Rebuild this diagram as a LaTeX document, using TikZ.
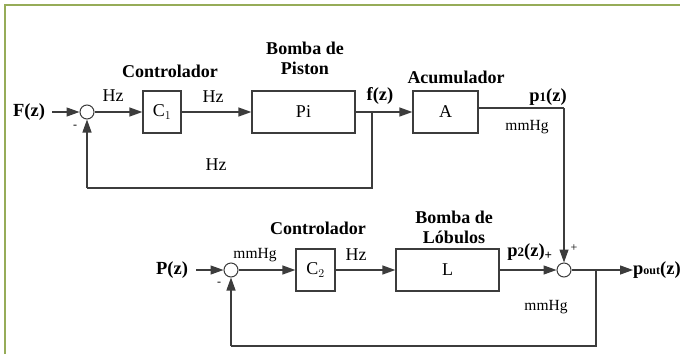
\documentclass[tikz,border=0pt]{standalone}
\usepackage{fontspec}
\setmainfont{Liberation Serif}
\usetikzlibrary{arrows.meta}
\definecolor{frame}{RGB}{150,172,88}
\definecolor{ln}{RGB}{60,60,60}
\tikzset{
  blk/.style={draw=ln, line width=1.3pt, minimum height=42pt, inner sep=0pt, font=\fontsize{18}{18}\selectfont},
  sumc/.style={circle, draw=ln, line width=1pt, minimum size=14pt, inner sep=0pt},
  wire/.style={draw=ln, line width=1.3pt},
  arr/.style={wire, -{Triangle[length=13pt,width=9pt]}},
  ttl/.style={font=\fontsize{18}{20}\selectfont\bfseries, align=center},
  sig/.style={font=\fontsize{18.5}{18.5}\selectfont\bfseries, inner sep=0pt},
  unit/.style={font=\fontsize{18}{18}\selectfont, inner sep=0pt},
  unitsm/.style={font=\fontsize{15.5}{15.5}\selectfont, inner sep=0pt},
  sgn/.style={font=\fontsize{12}{12}\selectfont, inner sep=0pt}
}
\begin{document}
\begin{tikzpicture}[x=1pt,y=-1pt]
\useasboundingbox (0,0) rectangle (680,354);
\draw[frame, line width=2pt] (5,354) -- (5,5) -- (680,5);

% top loop
\node[sig] (Fz) at (29,112) {F(z)};
\node[sumc] (s1) at (87,112) {};
\node[blk, minimum width=38pt] (C1) at (162,112) {C$_1$};
\node[blk, minimum width=103pt] (Pi) at (303.5,112) {Pi};
\coordinate (b1) at (372,112);
\node[blk, minimum width=65pt] (A) at (445.5,112) {A};
\coordinate (c1) at (564,108);

\node[ttl] (t1) at (170,71) {Controlador};
\node[ttl] (t2) at (305,58) {Bomba de\\Piston};
\node[ttl] (t3) at (456,77) {Acumulador};

\draw[arr, shorten <=7pt] (Fz) -- (s1);
\draw[arr] (s1) -- (C1);
\draw[arr] (C1) -- (Pi);
\draw[wire] (Pi) -- (b1);
\draw[arr] (b1) -- (A);
\draw[wire] (b1) -- (372,188) -- (87,188);
\draw[arr] (87,188) -- (s1);

\node[unit] at (113,96) {Hz};
\node[unit] at (213,97) {Hz};
\node[unit] at (216,165) {Hz};
\node[sig] at (380,96) {f(z)};
\node[sig] at (548,97) {p{\fontsize{13}{13}\selectfont 1}(z)};
\node[unitsm] at (527,127) {mmHg};
\node[sgn] at (75,127) {-};

% bottom loop
\node[sig] (Pz) at (172,270) {P(z)};
\node[sumc] (s2) at (231,270) {};
\node[blk, minimum width=39pt] (C2) at (315.5,270) {C$_2$};
\node[blk, minimum width=103pt] (L) at (447.5,270) {L};
\node[sumc] (s3) at (564,270) {};
\coordinate (b2) at (596,270);
\node[sig, anchor=west] (Po) at (633,270) {p{\fontsize{12}{12}\selectfont out}(z)};

\node[ttl] (t4) at (318,228) {Controlador};
\node[ttl] (t5) at (454,227) {Bomba de\\Lóbulos};

\draw[arr, shorten <=8pt] (Pz) -- (s2);
\draw[arr] (s2) -- (C2);
\draw[arr] (C2) -- (L);
\draw[arr] (L) -- (s3);
\draw[wire] (A.east |- c1) -- (c1);
\draw[arr] (c1) -- (s3);
\draw[wire] (s3) -- (b2);
\draw[arr] (b2) -- (Po);
\draw[wire] (b2) -- (596,346) -- (231,346);
\draw[arr] (231,346) -- (s2);

\node[unitsm] at (255,255) {mmHg};
\node[unit] at (356,255) {Hz};
\node[sig] at (530,252) {p{\fontsize{13}{13}\selectfont 2}(z)\textsubscript{\fontsize{13}{13}\selectfont +}};
\node[sgn] at (574,248) {+};
\node[sgn] at (219,284) {-};
\node[unitsm] at (546,307) {mmHg};
\end{tikzpicture}
\end{document}
